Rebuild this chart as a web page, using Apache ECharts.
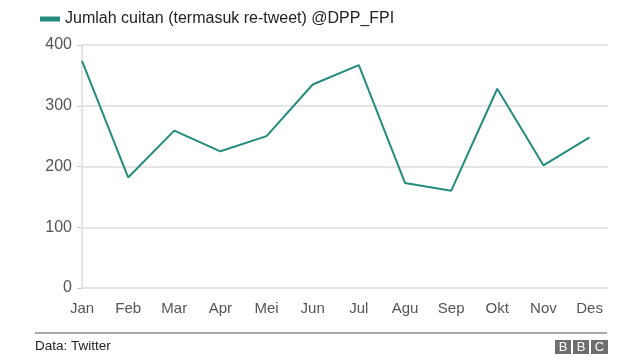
<!DOCTYPE html>
<html><head><meta charset="utf-8">
<script src="https://cdn.jsdelivr.net/npm/echarts@6/dist/echarts.min.js"></script>
<style>html,body{margin:0;padding:0;background:#fff}#c{width:640px;height:360px}</style>
</head><body><div id="c"></div>
<script>
var categories = ['Jan','Feb','Mar','Apr','Mei','Jun','Jul','Agu','Sep','Okt','Nov','Des'];
var tweets = [374, 182, 259, 225, 250, 335, 367, 173, 160, 328, 202, 248];
var seriesName = 'Jumlah cuitan (termasuk re-tweet) @DPP_FPI';
var source = 'Data: Twitter';

var chart = echarts.init(document.getElementById('c'));
var font = 'Liberation Sans, Arial, sans-serif';
chart.setOption({
  animation: false,
  textStyle: {fontFamily: font},
  grid: {left: 82, top: 45, width: 526, height: 243},
  legend: {
    left: 35, top: 6, itemWidth: 20, itemHeight: 5, itemGap: 7,
    icon: 'rect',
    textStyle: {fontSize: 16, color: '#222', fontFamily: font},
    data: [seriesName]
  },
  xAxis: {
    type: 'value', min: 0, max: 11.4, interval: 1,
    axisLine: {show: false}, axisTick: {show: false}, splitLine: {show: false},
    axisLabel: {
      showMaxLabel: false, fontSize: 15, color: '#555', margin: 13, fontFamily: font,
      formatter: function (v) { return categories[Math.round(v)] || ''; }
    }
  },
  yAxis: {
    type: 'value', min: 0, max: 400, interval: 100,
    axisLine: {show: true, lineStyle: {color: '#ddd', width: 1.5}},
    axisTick: {show: true, length: 5, lineStyle: {color: '#ccc'}},
    splitLine: {lineStyle: {color: '#ddd', width: 1.5}},
    axisLabel: {fontSize: 16, color: '#555', margin: 10, fontFamily: font}
  },
  series: [{
    name: seriesName, type: 'line',
    data: tweets.map(function (v, i) { return [i, v]; }),
    symbol: 'none',
    lineStyle: {color: '#238c7e', width: 2},
    itemStyle: {color: '#238c7e'}
  }],
  graphic: [
    {type: 'line', shape: {x1: 35, y1: 333, x2: 607, y2: 333}, style: {stroke: '#555', lineWidth: 1.2}},
    {type: 'text', x: 35, y: 346, style: {text: source, fontSize: 13.5, fill: '#222', verticalAlign: 'middle', fontFamily: font}},
    {type: 'rect', shape: {x: 555, y: 340, width: 16, height: 14}, style: {fill: '#6e6e6e'}},
    {type: 'rect', shape: {x: 573, y: 340, width: 16, height: 14}, style: {fill: '#6e6e6e'}},
    {type: 'rect', shape: {x: 591, y: 340, width: 17, height: 14}, style: {fill: '#6e6e6e'}},
    {type: 'text', x: 563, y: 347.5, style: {text: 'B', fontSize: 13, fill: '#fff', align: 'center', verticalAlign: 'middle', fontFamily: font}},
    {type: 'text', x: 581, y: 347.5, style: {text: 'B', fontSize: 13, fill: '#fff', align: 'center', verticalAlign: 'middle', fontFamily: font}},
    {type: 'text', x: 599.5, y: 347.5, style: {text: 'C', fontSize: 13, fill: '#fff', align: 'center', verticalAlign: 'middle', fontFamily: font}}
  ]
});
</script></body></html>
